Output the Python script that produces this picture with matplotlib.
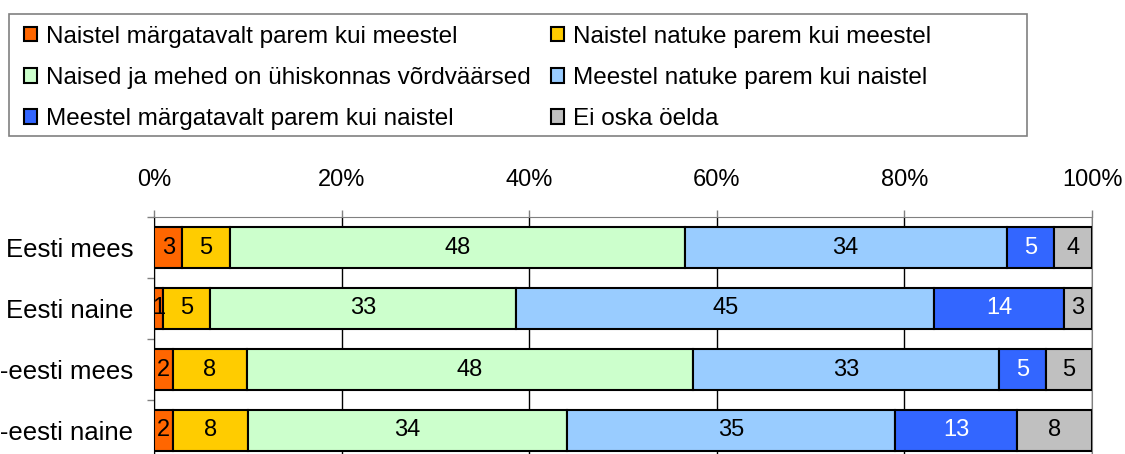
import numpy as np
import matplotlib.pyplot as plt
from matplotlib.patches import Rectangle, Patch

plt.rcParams['font.family'] = ['Liberation Sans', 'DejaVu Sans']

groups = ["Eesti mees", "Eesti naine", "Mitte-eesti mees", "Mitte-eesti naine"]
answers = [
    "Naistel märgatavalt parem kui meestel",
    "Naistel natuke parem kui meestel",
    "Naised ja mehed on ühiskonnas võrdväärsed",
    "Meestel natuke parem kui naistel",
    "Meestel märgatavalt parem kui naistel",
    "Ei oska öelda",
]
# displayed values (%), one list per answer, in group order
much_better_w = [3, 1, 2, 2]
bit_better_w = [5, 5, 8, 8]
equal = [48, 33, 48, 34]
bit_better_m = [34, 45, 33, 35]
much_better_m = [5, 14, 5, 13]
dont_know = [4, 3, 5, 8]

colors = ["#FF6600", "#FFCC00", "#CCFFCC", "#99CCFF", "#3366FF", "#C0C0C0"]
text_colors = ["black", "black", "black", "black", "white", "black"]

data = np.array([much_better_w, bit_better_w, equal, bit_better_m,
                 much_better_m, dont_know], dtype=float)
shares = data / data.sum(axis=0) * 100

W, H = 1125, 454
fig = plt.figure(figsize=(W / 100, H / 100), dpi=100)
ax = fig.add_axes([154 / W, -7 / H, (1092 - 154) / W, 244 / H])

y = np.arange(len(groups))
left = np.zeros(len(groups))
for i in range(len(answers)):
    ax.barh(y, shares[i], left=left, height=0.67, color=colors[i],
            edgecolor="black", linewidth=1.5, zorder=3)
    for j in range(len(groups)):
        ax.text(left[j] + shares[i][j] / 2, y[j], f"{data[i][j]:.0f}",
                ha="center", va="center", fontsize=17,
                color=text_colors[i], zorder=4)
    left += shares[i]

ax.set_xlim(0, 100)
ax.set_ylim(len(groups) - 0.5, -0.5)
ax.xaxis.tick_top()
ax.set_xticks(np.arange(0, 101, 20))
ax.set_xticklabels([f"{v}%" for v in range(0, 101, 20)])
ax.tick_params(axis="x", direction="out", length=5, width=1, pad=14,
               labelsize=17, color="#808080")
ax.grid(axis="x", color="black", linewidth=1, zorder=0)

ax.set_yticks(np.arange(len(groups) + 1) - 0.5)
ax.set_yticklabels([])
ax.set_yticks(y, minor=True)
ax.set_yticklabels(groups, minor=True)
ax.tick_params(axis="y", which="major", direction="out", length=5, width=1,
               color="#808080")
ax.tick_params(axis="y", which="minor", length=0, pad=15, labelsize=18.5)

for s in ["top", "right"]:
    ax.spines[s].set_color("#808080")
ax.spines["left"].set_color("black")
ax.spines["bottom"].set_visible(False)

# legend box
fig.patches.append(Rectangle((9 / W, 1 - 136 / H), (1027 - 9) / W, 122 / H,
                             transform=fig.transFigure, facecolor="white",
                             edgecolor="#808080", linewidth=1.2))
handles = [Patch(facecolor=c, edgecolor="black", linewidth=1.5) for c in colors]
order = [0, 2, 4, 1, 3, 5]  # fill legend row by row
fig.legend([handles[k] for k in order], [answers[k] for k in order],
           ncol=2, loc="upper left",
           bbox_to_anchor=(14 / W, 1 - 16 / H), frameon=False, fontsize=17.5,
           handlelength=0.55, handleheight=0.55, handletextpad=0.35,
           labelspacing=0.79, columnspacing=0.85, borderaxespad=0)

fig.savefig("out.png", dpi=100)
